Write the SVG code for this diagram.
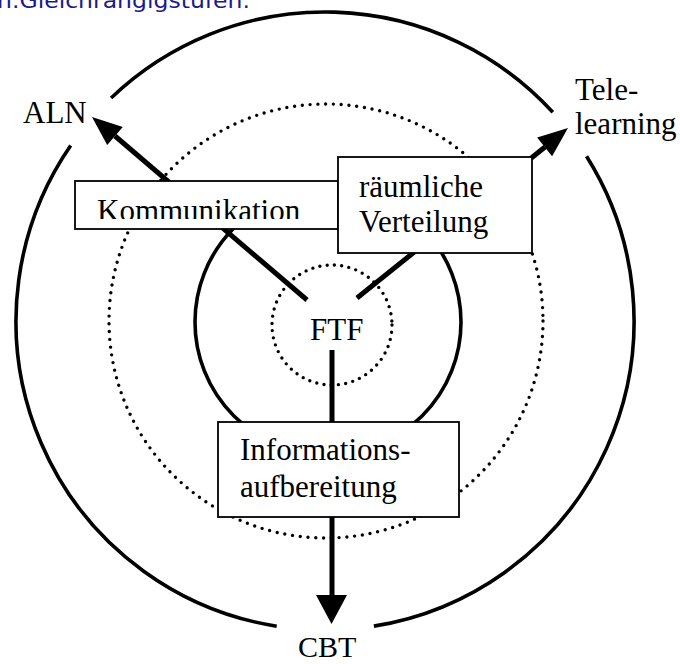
<svg xmlns="http://www.w3.org/2000/svg" width="680" height="664" viewBox="0 0 680 664">
<style>
.solid{fill:none;stroke:#000;stroke-width:3.6}
.dots{fill:none;stroke:#000;stroke-width:3.4;stroke-dasharray:0 7.8;stroke-linecap:round}
.box{fill:#fff;stroke:#000;stroke-width:1.8}
.lbl{font-family:"Liberation Serif","Times New Roman",serif;font-size:31px;fill:#000}
.conn{stroke:#000;stroke-width:5;fill:none}
.head{fill:#000;stroke:none}
</style>
<defs>
<clipPath id="kclip"><rect x="75" y="181" width="263" height="38"/></clipPath>
</defs>
<rect width="680" height="664" fill="#fff"/>
<text x="-3" y="8" font-family="DejaVu Sans, sans-serif" font-size="21" fill="#1a1a8c" textLength="253" lengthAdjust="spacingAndGlyphs">n.Gleichrangigstufen.</text>
<g id="circles">
<path class="solid" d="M111.1,98 A309,309 0 0 1 552.8,112.2"/>
<path class="solid" d="M586.5,156.3 A309,309 0 0 1 373.9,626.1"/>
<path class="solid" d="M276.7,626.2 A309,309 0 0 1 70.7,145.5"/>
<circle class="dots" cx="326" cy="321" r="217"/>
<circle class="solid" cx="328" cy="322" r="133"/>
<circle class="dots" cx="332" cy="325" r="60" style="stroke-dasharray:0 7.3"/>
</g>
<g id="connectors">
<line class="conn" x1="307" y1="300" x2="115" y2="136"/>
<polygon class="head" points="92,117 122.8,126.9 107.2,145.1"/>
<line class="conn" x1="357" y1="298" x2="545" y2="147"/>
<polygon class="head" points="568,128 552.1,156.2 537.1,137.5"/>
<line class="conn" x1="332" y1="350" x2="332" y2="597"/>
<polygon class="head" points="316,595 347,595 331.5,624"/>
</g>
<g id="n-kommunikation">
<rect class="box" x="75" y="181" width="263" height="48"/>
<text class="lbl" x="97" y="221" clip-path="url(#kclip)">Kommunikation</text>
</g>
<g id="n-verteilung">
<rect class="box" x="338" y="157" width="194" height="96"/>
<text class="lbl" x="359" y="197">räumliche</text>
<text class="lbl" x="359" y="232">Verteilung</text>
</g>
<g id="n-information">
<rect class="box" x="218" y="422" width="241" height="95"/>
<text class="lbl" x="240" y="460">Informations-</text>
<text class="lbl" x="240" y="497">aufbereitung</text>
</g>
<g id="n-ftf"><text class="lbl" x="310" y="340">FTF</text></g>
<g id="n-aln"><text class="lbl" x="23" y="123">ALN</text></g>
<g id="n-tele"><text class="lbl" x="575" y="100">Tele-</text><text class="lbl" x="575" y="134">learning</text></g>
<g id="n-cbt"><text class="lbl" x="298" y="657" style="font-size:30px">CBT</text></g>
</svg>
